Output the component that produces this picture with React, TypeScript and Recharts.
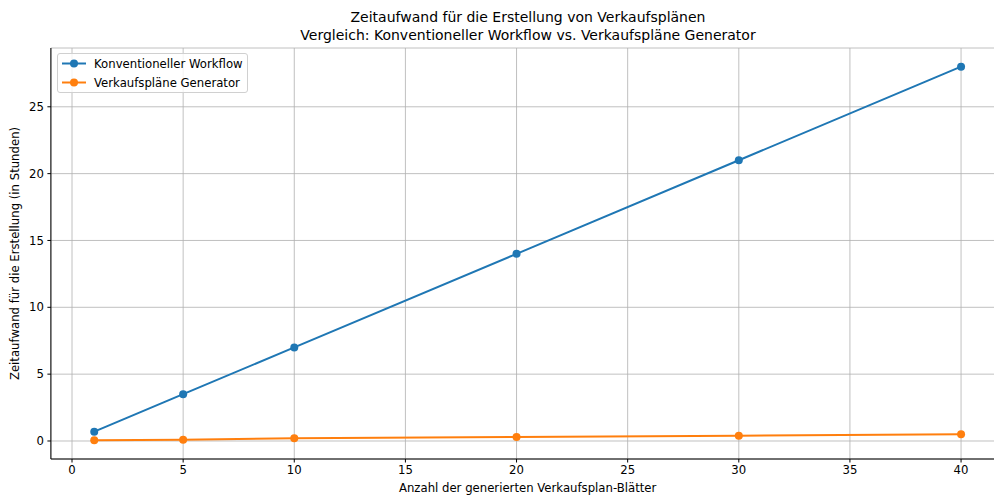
import { CartesianGrid, Line, LineChart, XAxis, YAxis } from 'recharts';

const sheets = [1, 5, 10, 20, 30, 40];
const conventional = [0.7, 3.5, 7, 14, 21, 28];
const generator = [0.05, 0.1, 0.2, 0.3, 0.4, 0.5];
const xTicks = [0, 5, 10, 15, 20, 25, 30, 35, 40];
const yTicks = [0, 5, 10, 15, 20, 25];

const blue = '#1f77b4';
const orange = '#ff7f0e';
const font = '"DejaVu Sans", sans-serif';
const fs = 11.7;

const data = sheets.map((s, i) => ({
  sheets: s,
  conventional: conventional[i],
  generator: generator[i],
}));

const legendItems = [
  { name: 'Konventioneller Workflow', color: blue },
  { name: 'Verkaufspläne Generator', color: orange },
];

function App() {
  return (
    <div
      style={{
        position: 'absolute',
        left: 0,
        top: 0,
        width: 994,
        height: 495,
        overflow: 'hidden',
        background: '#fff',
        fontFamily: font,
      }}
    >
      <div
        style={{
          position: 'absolute',
          left: 0,
          top: 8,
          width: 1056,
          textAlign: 'center',
          fontSize: 14,
          lineHeight: '18px',
          color: '#000',
        }}
      >
        <div>Zeitaufwand für die Erstellung von Verkaufsplänen</div>
        <div>Vergleich: Konventioneller Workflow vs. Verkaufspläne Generator</div>
      </div>

      <LineChart
        width={1010}
        height={495}
        data={data}
        margin={{ top: 48, right: 5.6, bottom: 0, left: 0 }}
        style={{ fontFamily: font }}
      >
        <CartesianGrid stroke='#b0b0b0' strokeWidth={0.8} />
        <XAxis
          dataKey='sheets'
          type='number'
          domain={[-0.95, 41.95]}
          ticks={xTicks}
          allowDataOverflow
          height={36}
          tickSize={3.5}
          tickMargin={3.5}
          stroke='#000'
          tick={{ fill: '#000', fontSize: fs }}
          label={{
            value: 'Anzahl der generierten Verkaufsplan-Blätter',
            position: 'insideBottom',
            offset: 3,
            fill: '#000',
            fontSize: fs,
          }}
        />
        <XAxis
          xAxisId='top'
          orientation='top'
          dataKey='sheets'
          type='number'
          domain={[-0.95, 41.95]}
          height={0}
          tick={false}
          tickLine={false}
          stroke='#000'
        />
        <YAxis
          type='number'
          domain={[-1.3475, 29.3975]}
          ticks={yTicks}
          allowDataOverflow
          width={50.9}
          tickSize={3.5}
          tickMargin={3.5}
          stroke='#000'
          tick={{ fill: '#000', fontSize: fs }}
          label={{
            value: 'Zeitaufwand für die Erstellung (in Stunden)',
            angle: -90,
            position: 'insideLeft',
            offset: 15,
            style: { textAnchor: 'middle' },
            fill: '#000',
            fontSize: fs,
          }}
        />
        <Line
          dataKey='conventional'
          stroke={blue}
          strokeWidth={2}
          dot={{ r: 4, fill: blue, stroke: blue, strokeWidth: 0 }}
          activeDot={false}
          isAnimationActive={false}
        />
        <Line
          dataKey='generator'
          stroke={orange}
          strokeWidth={2}
          dot={{ r: 4, fill: orange, stroke: orange, strokeWidth: 0 }}
          activeDot={false}
          isAnimationActive={false}
        />
      </LineChart>

      <div
        style={{
          position: 'absolute',
          left: 57,
          top: 53,
          width: 191,
          height: 40,
          border: '1px solid #d0d0d0',
          borderRadius: 3,
          background: 'rgba(255,255,255,0.8)',
          boxSizing: 'border-box',
          paddingTop: 0,
        }}
      >
        {legendItems.map((item) => (
          <div
            key={item.name}
            style={{ display: 'flex', alignItems: 'center', height: 19, fontSize: fs, color: '#000' }}
          >
            <svg width={36} height={19} style={{ flexShrink: 0 }}>
              <line x1={4} x2={28} y1={9.5} y2={9.5} stroke={item.color} strokeWidth={2} />
              <circle cx={16} cy={9.5} r={4} fill={item.color} />
            </svg>
            <span style={{ marginLeft: 0 }}>{item.name}</span>
          </div>
        ))}
      </div>
    </div>
  );
}

export default App;
